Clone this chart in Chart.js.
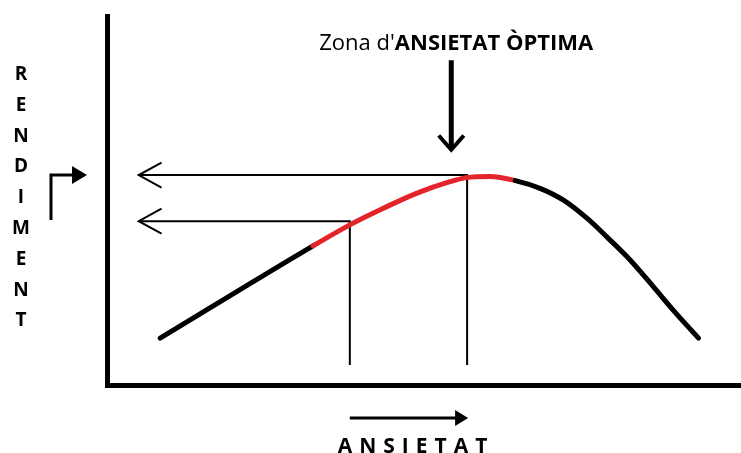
<!DOCTYPE html>
<html lang="ca">
<head>
<meta charset="utf-8">
<title>Rendiment i ansietat</title>
<script src="https://cdn.jsdelivr.net/npm/chart.js@4/dist/chart.umd.min.js"></script>
<style>
  html, body { margin: 0; padding: 0; background: #fff; }
  #chart { display: block; }
</style>
</head>
<body>
<canvas id="chart" width="741" height="453"></canvas>
<script>
// Corba rendiment / ansietat (unitats arbitràries 0-100)
const ansietat = [8.4, 32.5, 38.3, 43.6, 48.9, 54.1, 56.7, 60.4, 64.4, 68.3, 72, 75.7, 78.8, 82, 86.2, 89.3, 93.3];
const rendiment = [12.7, 37.7, 43.4, 47.9, 52, 55.1, 56.2, 56.5, 55.4, 53.3, 50.1, 45.2, 40.2, 34.8, 26.6, 20.3, 12.7];

// Zona d'ansietat òptima (tram vermell)
const zonaOptima = [32.5, 64.4];

// Línies de referència cap a l'eix de rendiment
const guiaAltaX = [5, 56.8, 56.8];
const guiaAltaY = [56.9, 56.9, 5.4];
const guiaBaixaX = [5, 38.3, 38.3];
const guiaBaixaY = [44.4, 44.4, 5.4];

// Fletxa que assenyala la zona òptima
const fletxaZonaX = [54.3, 54.3];
const fletxaZonaY = [88, 64];

const titolZona = ["Zona d'", 'ANSIETAT ÒPTIMA'];
const titolX = 'ANSIETAT';
const titolY = 'RENDIMENT';

const fontFamily = '"Open Sans", Lato, sans-serif';

const toPoints = (xs, ys) => xs.map((x, i) => ({ x, y: ys[i] }));

const inZone = (x) => x >= zonaOptima[0] && x < zonaOptima[1];

const drawChevron = (ctx, tipX, tipY, angle, size, spread) => {
  ctx.beginPath();
  ctx.moveTo(tipX + Math.cos(angle - spread) * size, tipY + Math.sin(angle - spread) * size);
  ctx.lineTo(tipX, tipY);
  ctx.lineTo(tipX + Math.cos(angle + spread) * size, tipY + Math.sin(angle + spread) * size);
  ctx.stroke();
};

const drawTriangle = (ctx, tipX, tipY, angle, length, halfWidth) => {
  const bx = tipX - Math.cos(angle) * length;
  const by = tipY - Math.sin(angle) * length;
  const nx = -Math.sin(angle) * halfWidth;
  const ny = Math.cos(angle) * halfWidth;
  ctx.beginPath();
  ctx.moveTo(tipX, tipY);
  ctx.lineTo(bx + nx, by + ny);
  ctx.lineTo(bx - nx, by - ny);
  ctx.closePath();
  ctx.fill();
};

const annotations = {
  id: 'annotations',
  afterDatasetsDraw(chart) {
    const { ctx, chartArea, scales } = chart;
    const xs = scales.x;
    const ys = scales.y;
    ctx.save();
    ctx.strokeStyle = '#000';
    ctx.fillStyle = '#000';
    ctx.lineCap = 'butt';
    ctx.lineJoin = 'miter';

    // puntes obertes de les guies (apunten a l'eix Y)
    ctx.lineWidth = 2;
    [guiaAltaY[0], guiaBaixaY[0]].forEach((value) => {
      const px = xs.getPixelForValue(guiaAltaX[0]);
      const py = ys.getPixelForValue(value);
      drawChevron(ctx, px, py, 0, 26, 0.5);
    });

    // punta de la fletxa de la zona
    ctx.lineWidth = 4;
    const fx = xs.getPixelForValue(fletxaZonaX[1]);
    const fy = ys.getPixelForValue(fletxaZonaY[1]);
    drawChevron(ctx, fx, fy + 1, -Math.PI / 2, 19, 0.72);

    // títol de la zona: "Zona d'" normal + resta en negreta
    const regular = `22px ${fontFamily}`;
    const bold = `bold 22px ${fontFamily}`;
    ctx.font = regular;
    const w1 = ctx.measureText(titolZona[0]).width;
    ctx.font = bold;
    const w2 = ctx.measureText(titolZona[1]).width;
    const startX = fx + 5 - (w1 + w2) / 2;
    const topY = ys.getPixelForValue(fletxaZonaY[0]);
    ctx.textBaseline = 'alphabetic';
    ctx.textAlign = 'left';
    ctx.font = regular;
    ctx.fillText(titolZona[0], startX, topY - 10);
    ctx.font = bold;
    ctx.fillText(titolZona[1], startX + w1, topY - 10);

    // fletxa i títol de l'eix X
    const ax0 = xs.getPixelForValue(guiaBaixaX[1]);
    const ax1 = xs.getPixelForValue(guiaAltaX[1]);
    const ay = chartArea.bottom + 33;
    ctx.lineWidth = 3;
    ctx.beginPath();
    ctx.moveTo(ax0, ay);
    ctx.lineTo(ax1 - 8, ay);
    ctx.stroke();
    drawTriangle(ctx, ax1 + 1, ay, 0, 13, 8);

    const spacing = 7;
    ctx.font = `bold 21px ${fontFamily}`;
    ctx.letterSpacing = `${spacing}px`;
    const wx = ctx.measureText(titolX).width - spacing;
    const midX = (ax0 + ax1) / 2 + 4;
    ctx.fillText(titolX, midX - wx / 2, chartArea.bottom + 68);
    ctx.letterSpacing = '0px';

    // títol de l'eix Y, lletres apilades
    ctx.textAlign = 'center';
    ctx.font = `bold 19px ${fontFamily}`;
    const letterX = 21;
    titolY.split('').forEach((letter, i) => {
      ctx.fillText(letter, letterX, 80 + i * 30.8);
    });

    // fletxa doblegada al costat de l'eix Y
    const by = ys.getPixelForValue(guiaAltaY[0]);
    ctx.lineWidth = 3;
    ctx.beginPath();
    ctx.moveTo(51, by + 45);
    ctx.lineTo(51, by);
    ctx.lineTo(74, by);
    ctx.stroke();
    drawTriangle(ctx, 87, by, 0, 15, 9);

    ctx.restore();
  }
};

const ctx = document.getElementById('chart');

new Chart(ctx, {
  type: 'line',
  data: {
    datasets: [
      {
        label: 'Rendiment',
        data: toPoints(ansietat, rendiment),
        borderColor: '#000',
        borderWidth: 5,
        borderCapStyle: 'round',
        cubicInterpolationMode: 'monotone',
        pointRadius: 0,
        segment: {
          borderColor: (seg) => (inZone(seg.p0.parsed.x) ? '#e3242b' : '#000')
        }
      },
      {
        label: 'Guia alta',
        data: toPoints(guiaAltaX, guiaAltaY),
        borderColor: '#000',
        borderWidth: 2,
        tension: 0,
        pointRadius: 0
      },
      {
        label: 'Guia baixa',
        data: toPoints(guiaBaixaX, guiaBaixaY),
        borderColor: '#000',
        borderWidth: 2,
        tension: 0,
        pointRadius: 0
      },
      {
        label: 'Fletxa zona',
        data: toPoints(fletxaZonaX, fletxaZonaY),
        borderColor: '#000',
        borderWidth: 5,
        tension: 0,
        pointRadius: 0
      }
    ]
  },
  options: {
    responsive: false,
    animation: false,
    events: [],
    layout: {
      padding: { left: 107, right: 0, top: 16, bottom: 68 }
    },
    plugins: {
      legend: { display: false },
      tooltip: { enabled: false }
    },
    scales: {
      x: {
        type: 'linear',
        min: 0,
        max: 100,
        grid: { display: false, drawTicks: false },
        ticks: { display: false },
        border: { display: true, color: '#000', width: 5 }
      },
      y: {
        type: 'linear',
        min: 0,
        max: 100,
        grid: { display: false, drawTicks: false },
        ticks: { display: false },
        border: { display: true, color: '#000', width: 5 }
      }
    }
  },
  plugins: [annotations]
});
</script>
</body>
</html>
